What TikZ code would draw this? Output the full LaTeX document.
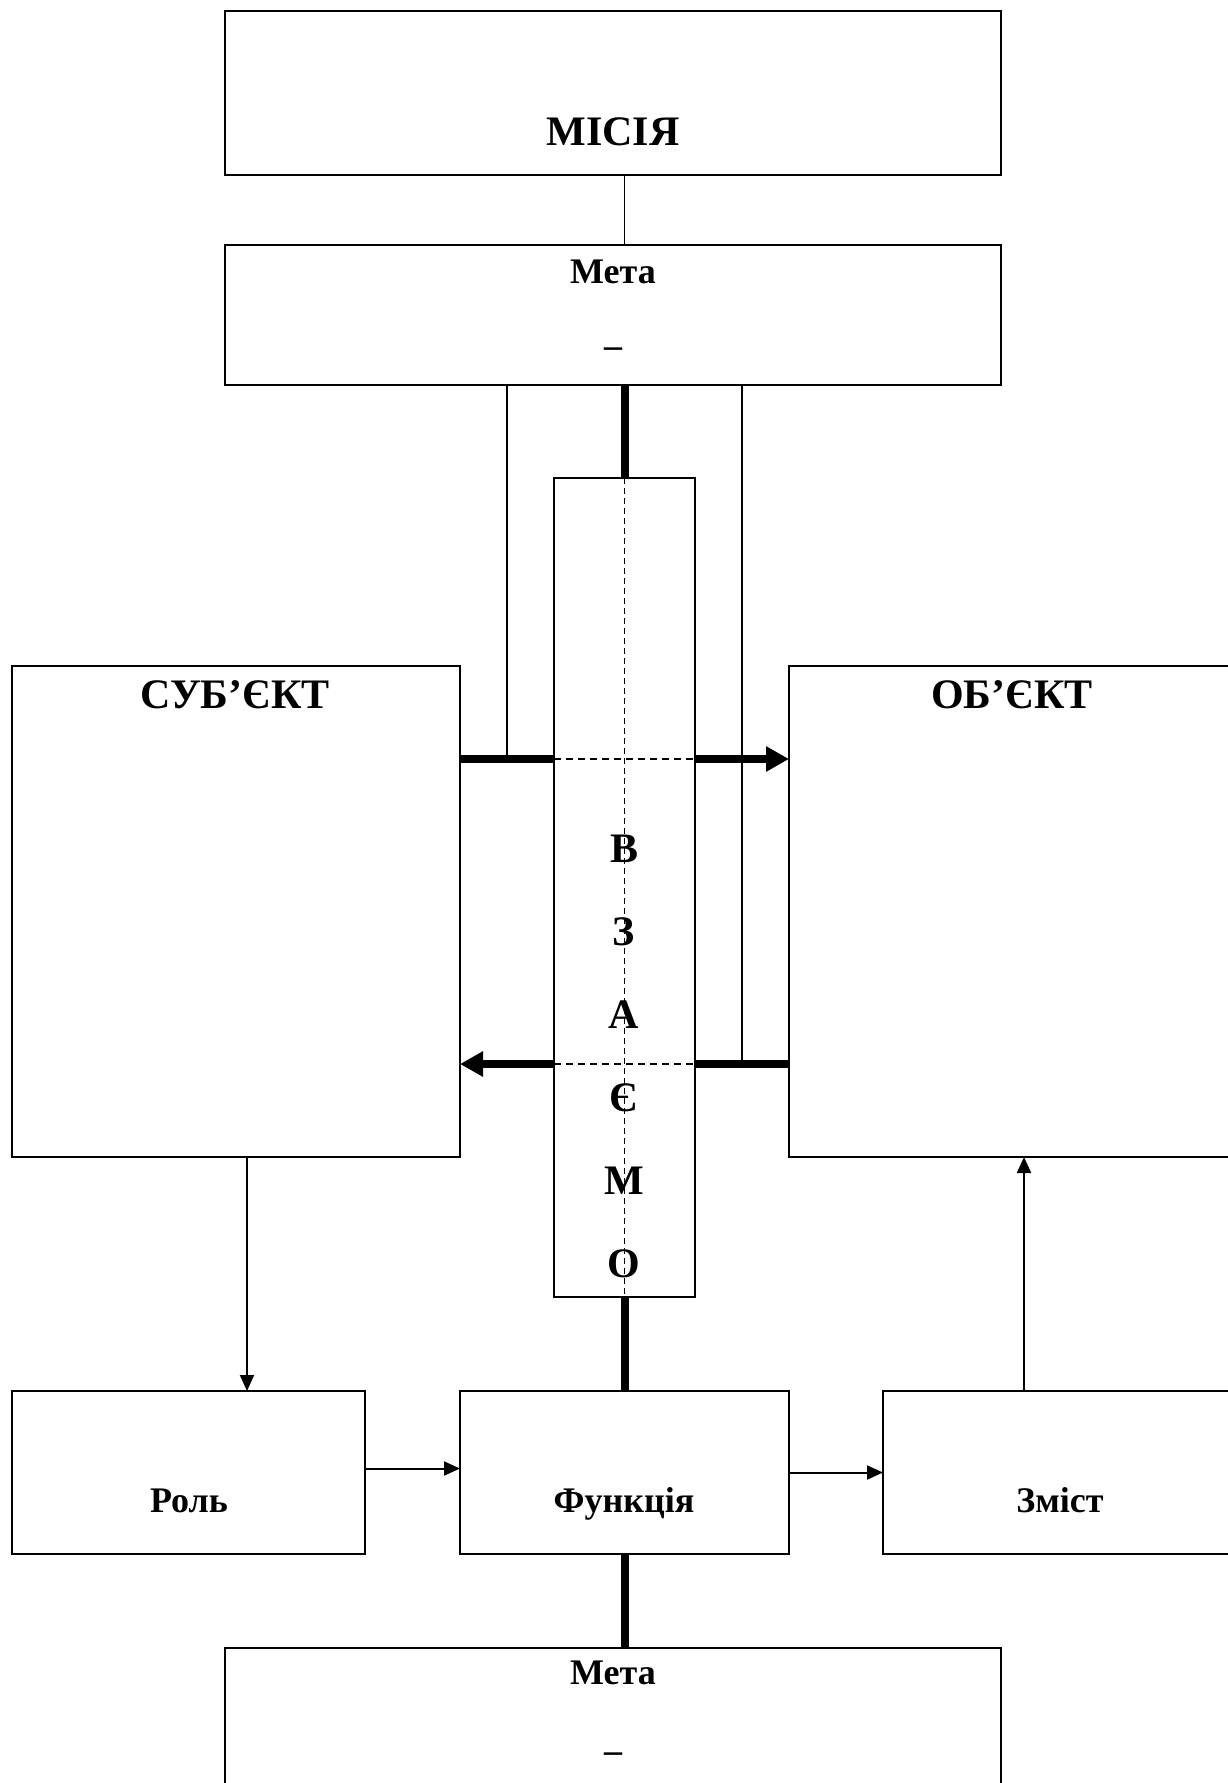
\documentclass[tikz,border=0pt]{standalone}
\usepackage{fontspec}
\setmainfont{Liberation Serif}
\usetikzlibrary{arrows.meta}

\begin{document}
\begin{tikzpicture}[x=1pt, y=-1pt,
    block/.style={draw, line width=1.8pt, inner sep=0pt, outer sep=0pt},
    big/.style={font=\fontsize{42}{48}\selectfont\bfseries, anchor=base,
      inner sep=0pt},
    mid/.style={font=\fontsize{36}{42}\selectfont\bfseries, anchor=base,
      inner sep=0pt}]
  \clip (0,0) rectangle (1228,1783);
  \begin{scope}[every node/.style={block}]
    \node[minimum width=776pt, minimum height=164pt] (misia) at (613,93) {};
    \node[minimum width=776pt, minimum height=140pt] (meta) at (613,315) {};
    \node[minimum width=141pt, minimum height=819pt] (vz) at (624.5,887.5) {};
    \node[minimum width=448pt, minimum height=491pt] (subj) at (236,911.5) {};
    \node[minimum width=447pt, minimum height=491pt] (obj) at (1012.5,911.5) {};
    \node[minimum width=353pt, minimum height=163pt] (role) at (188.5,1472.5) {};
    \node[minimum width=329pt, minimum height=163pt] (func) at (624.5,1472.5) {};
    \node[minimum width=354pt, minimum height=163pt] (zmist) at (1060,1472.5) {};
    \node[minimum width=776pt, minimum height=152pt] (meta2) at (613,1724) {};
  \end{scope}

  % texts
  \node[big] (tmisia) at (613,145) {МІСІЯ};
  \node[mid] (tmeta) at (613,283) {Мета}; \node[mid] (dmeta) at (613,357) {–};
  \node[big] (tsubj) at (235,708) {СУБ’ЄКТ};
  \node[big] (tobj) at (1012,708) {ОБ’ЄКТ};
  \node[mid] (trole) at (189,1512) {Роль};
  \node[mid] (tfunc) at (624,1512) {Функція};
  \node[mid] (tzmist) at (1060,1512) {Зміст};
  \node[mid] (tmeta2) at (613,1684) {Мета}; \node[mid] (dmeta2) at (613,1762) {–};
  \foreach \c [count=\i from 0] in {В,З,А,Є,М,О}
    \node[big] (v\i) at (624,862+83*\i) {\c};

  \coordinate (tapL) at (507,759);
  \coordinate (tapR) at (742,1064);

  \begin{scope}[line width=1.5pt]
    \draw[line width=1.2pt] (misia.south -| vz.north) -- (meta.north -| vz.north);
    \draw (tapL) -- (tapL |- meta.south);
    \draw (tapR) -- (tapR |- meta.south);
    \draw[dash pattern=on 6pt off 4pt, line width=1pt] (vz.north) -- (vz.south);
    \draw[dash pattern=on 7pt off 5pt, line width=2.2pt]
      (vz.west |- tapL) -- (vz.east |- tapL);
    \draw[dash pattern=on 7pt off 5pt, line width=2.2pt]
      (vz.west |- tapR) -- (vz.east |- tapR);
  \end{scope}

  \begin{scope}[line width=8pt, >={Triangle[length=23pt, width=24pt]}]
    \draw (meta.south -| vz.north) -- (vz.north);
    \draw (subj.east |- tapL) -- (vz.west |- tapL);
    \draw[->] (vz.east |- tapL) -- (obj.west |- tapL);
    \draw (obj.west |- tapR) -- (vz.east |- tapR);
    \draw[->] (vz.west |- tapR) -- (subj.east |- tapR);
    \draw (vz.south) -- (func.north);
    \draw (func.south) -- (func.south |- meta2.north);
  \end{scope}

  \begin{scope}[->, line width=2pt, >={Triangle[length=16pt, width=14pt]}]
    \draw ([xshift=11pt]subj.south) -- ([xshift=11pt]subj.south |- role.north);
    \draw ([yshift=4pt]role.east) -- ([yshift=4pt]func.west);
    \draw (func.east) -- (zmist.west);
    \draw ([xshift=-36pt]zmist.north) -- ([xshift=-36pt]zmist.north |- obj.south);
  \end{scope}
\end{tikzpicture}
\end{document}
